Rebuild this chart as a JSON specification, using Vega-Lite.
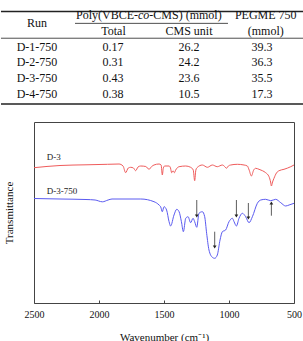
{
  "$schema": "https://vega.github.io/schema/vega-lite/v6.json",
  "padding": 0,
  "background": "white",
  "bounds": "flush",
  "spacing": 10,
  "config": {"font": "Liberation Serif"},
  "datasets": {
    "cells": [
      {"c": 0, "r": 0.5, "t": "Run"},
      {"c": 1.007, "r": 1, "t": "Total"},
      {"c": 2, "r": 1, "t": "CMS unit"},
      {"c": 3.01, "r": 0, "t": "PEGME 750"},
      {"c": 3.01, "r": 1, "t": "(mmol)"},
      {"c": 0, "r": 2, "t": "D-1-750"},
      {"c": 1.0, "r": 2, "t": "0.17"},
      {"c": 2.0, "r": 2, "t": "26.2"},
      {"c": 2.96, "r": 2, "t": "39.3"},
      {"c": 0, "r": 3, "t": "D-2-750"},
      {"c": 1.0, "r": 3, "t": "0.31"},
      {"c": 2.0, "r": 3, "t": "24.2"},
      {"c": 2.96, "r": 3, "t": "36.3"},
      {"c": 0, "r": 4, "t": "D-3-750"},
      {"c": 1.0, "r": 4, "t": "0.43"},
      {"c": 2.0, "r": 4, "t": "23.6"},
      {"c": 2.96, "r": 4, "t": "35.5"},
      {"c": 0, "r": 5, "t": "D-4-750"},
      {"c": 1.0, "r": 5, "t": "0.38"},
      {"c": 2.0, "r": 5, "t": "10.5"},
      {"c": 2.96, "r": 5, "t": "17.3"}
    ],
    "thick": [
      {"c1": -0.474, "c2": 3.513, "r": -0.22},
      {"c1": -0.474, "c2": 3.513, "r": 5.63}
    ],
    "thin": [
      {"c1": -0.474, "c2": 3.513, "r": 1.47},
      {"c1": 0.5, "c2": 2.513, "r": 0.53}
    ],
    "spectra": [
      {"wn": 2500, "T": 135.3, "s": "D-3"}, {"wn": 2300, "T": 137.5, "s": "D-3"}, {"wn": 2100, "T": 138.2, "s": "D-3"},
      {"wn": 1935, "T": 138.7, "s": "D-3"}, {"wn": 1846, "T": 139, "s": "D-3"}, {"wn": 1815, "T": 137, "s": "D-3"},
      {"wn": 1795, "T": 130.3, "s": "D-3"}, {"wn": 1775, "T": 135, "s": "D-3"}, {"wn": 1756, "T": 135.7, "s": "D-3"},
      {"wn": 1735, "T": 135, "s": "D-3"}, {"wn": 1718, "T": 132.3, "s": "D-3"}, {"wn": 1700, "T": 136, "s": "D-3"},
      {"wn": 1679, "T": 137, "s": "D-3"}, {"wn": 1640, "T": 136.5, "s": "D-3"}, {"wn": 1615, "T": 133.7, "s": "D-3"},
      {"wn": 1595, "T": 136.5, "s": "D-3"}, {"wn": 1577, "T": 138, "s": "D-3"}, {"wn": 1538, "T": 139, "s": "D-3"},
      {"wn": 1522, "T": 138, "s": "D-3"}, {"wn": 1513, "T": 128, "s": "D-3"}, {"wn": 1505, "T": 135, "s": "D-3"},
      {"wn": 1495, "T": 137, "s": "D-3"}, {"wn": 1461, "T": 137, "s": "D-3"}, {"wn": 1450, "T": 135, "s": "D-3"},
      {"wn": 1441, "T": 130.3, "s": "D-3"}, {"wn": 1430, "T": 132.3, "s": "D-3"}, {"wn": 1420, "T": 130.3, "s": "D-3"},
      {"wn": 1410, "T": 133, "s": "D-3"}, {"wn": 1384, "T": 136.3, "s": "D-3"}, {"wn": 1333, "T": 137, "s": "D-3"},
      {"wn": 1295, "T": 135.7, "s": "D-3"}, {"wn": 1275, "T": 133, "s": "D-3"}, {"wn": 1264, "T": 122.3, "s": "D-3"},
      {"wn": 1255, "T": 133, "s": "D-3"}, {"wn": 1243, "T": 135.7, "s": "D-3"}, {"wn": 1205, "T": 138, "s": "D-3"},
      {"wn": 1166, "T": 135.7, "s": "D-3"}, {"wn": 1128, "T": 138, "s": "D-3"}, {"wn": 1090, "T": 136.3, "s": "D-3"},
      {"wn": 1051, "T": 138, "s": "D-3"}, {"wn": 1030, "T": 136, "s": "D-3"}, {"wn": 1020, "T": 134.7, "s": "D-3"},
      {"wn": 1005, "T": 137, "s": "D-3"}, {"wn": 987, "T": 138, "s": "D-3"}, {"wn": 936, "T": 138.7, "s": "D-3"},
      {"wn": 884, "T": 138, "s": "D-3"}, {"wn": 859, "T": 137, "s": "D-3"}, {"wn": 845, "T": 133, "s": "D-3"},
      {"wn": 828, "T": 127, "s": "D-3"}, {"wn": 810, "T": 133, "s": "D-3"}, {"wn": 795, "T": 134.7, "s": "D-3"},
      {"wn": 769, "T": 133.7, "s": "D-3"}, {"wn": 743, "T": 132.3, "s": "D-3"}, {"wn": 718, "T": 130.3, "s": "D-3"},
      {"wn": 692, "T": 126.3, "s": "D-3"}, {"wn": 680, "T": 121, "s": "D-3"}, {"wn": 674, "T": 117, "s": "D-3"},
      {"wn": 665, "T": 121, "s": "D-3"}, {"wn": 654, "T": 124.7, "s": "D-3"}, {"wn": 635, "T": 130, "s": "D-3"},
      {"wn": 615, "T": 132.3, "s": "D-3"}, {"wn": 577, "T": 133.7, "s": "D-3"}, {"wn": 525, "T": 136.3, "s": "D-3"},
      {"wn": 500, "T": 138, "s": "D-3"},
      {"wn": 2500, "T": 104.5, "s": "D-3-750"}, {"wn": 2300, "T": 104, "s": "D-3-750"}, {"wn": 2100, "T": 103.5, "s": "D-3-750"},
      {"wn": 2030, "T": 103, "s": "D-3-750"}, {"wn": 1974, "T": 101.2, "s": "D-3-750"}, {"wn": 1930, "T": 103, "s": "D-3-750"},
      {"wn": 1900, "T": 104, "s": "D-3-750"}, {"wn": 1679, "T": 104, "s": "D-3-750"}, {"wn": 1577, "T": 101.3, "s": "D-3-750"},
      {"wn": 1538, "T": 98, "s": "D-3-750"}, {"wn": 1525, "T": 96, "s": "D-3-750"}, {"wn": 1513, "T": 91.3, "s": "D-3-750"},
      {"wn": 1500, "T": 96.3, "s": "D-3-750"}, {"wn": 1480, "T": 93, "s": "D-3-750"}, {"wn": 1461, "T": 81.3, "s": "D-3-750"},
      {"wn": 1449, "T": 77, "s": "D-3-750"}, {"wn": 1423, "T": 88, "s": "D-3-750"}, {"wn": 1402, "T": 93.7, "s": "D-3-750"},
      {"wn": 1384, "T": 91.3, "s": "D-3-750"}, {"wn": 1366, "T": 81.3, "s": "D-3-750"}, {"wn": 1351, "T": 71.3, "s": "D-3-750"},
      {"wn": 1333, "T": 84.7, "s": "D-3-750"}, {"wn": 1315, "T": 86.3, "s": "D-3-750"}, {"wn": 1295, "T": 80.3, "s": "D-3-750"},
      {"wn": 1277, "T": 84.7, "s": "D-3-750"}, {"wn": 1264, "T": 81.3, "s": "D-3-750"}, {"wn": 1248, "T": 75.7, "s": "D-3-750"},
      {"wn": 1231, "T": 89.7, "s": "D-3-750"}, {"wn": 1205, "T": 91.3, "s": "D-3-750"}, {"wn": 1187, "T": 86.3, "s": "D-3-750"},
      {"wn": 1172, "T": 69.7, "s": "D-3-750"}, {"wn": 1154, "T": 53, "s": "D-3-750"}, {"wn": 1128, "T": 45.7, "s": "D-3-750"},
      {"wn": 1110, "T": 44.7, "s": "D-3-750"}, {"wn": 1090, "T": 48, "s": "D-3-750"}, {"wn": 1069, "T": 63, "s": "D-3-750"},
      {"wn": 1051, "T": 71.3, "s": "D-3-750"}, {"wn": 1026, "T": 73, "s": "D-3-750"}, {"wn": 1000, "T": 81.3, "s": "D-3-750"},
      {"wn": 974, "T": 84.7, "s": "D-3-750"}, {"wn": 961, "T": 81.3, "s": "D-3-750"}, {"wn": 943, "T": 77, "s": "D-3-750"},
      {"wn": 923, "T": 84.7, "s": "D-3-750"}, {"wn": 897, "T": 89.7, "s": "D-3-750"}, {"wn": 872, "T": 86.3, "s": "D-3-750"},
      {"wn": 846, "T": 80.3, "s": "D-3-750"}, {"wn": 820, "T": 86.3, "s": "D-3-750"}, {"wn": 782, "T": 99.7, "s": "D-3-750"},
      {"wn": 756, "T": 103, "s": "D-3-750"}, {"wn": 718, "T": 103.7, "s": "D-3-750"}, {"wn": 679, "T": 102.3, "s": "D-3-750"},
      {"wn": 641, "T": 103.7, "s": "D-3-750"}, {"wn": 602, "T": 100.3, "s": "D-3-750"}, {"wn": 564, "T": 97, "s": "D-3-750"},
      {"wn": 538, "T": 98, "s": "D-3-750"}, {"wn": 500, "T": 99.7, "s": "D-3-750"}
    ],
    "arrows": [
      {"wn": 1248, "a": 103, "b": 87, "d": "down"},
      {"wn": 1110, "a": 71.3, "b": 56, "d": "down"},
      {"wn": 943, "a": 103, "b": 87, "d": "down"},
      {"wn": 851, "a": 100, "b": 85, "d": "down"},
      {"wn": 674, "a": 87.3, "b": 100, "d": "up"}
    ],
    "labels": [
      {"wn": 2402, "T": 145.7, "t": "D-3"},
      {"wn": 2402, "T": 112, "t": "D-3-750"}
    ]
  },
  "vconcat": [
    {
      "width": 260,
      "height": 112,
      "view": {"stroke": null},
      "layer": [
        {
          "data": {"name": "thick"},
          "mark": {"type": "rule", "strokeWidth": 1.6, "color": "#222"},
          "encoding": {
            "x": {"field": "c1", "type": "quantitative", "scale": {"domain": [-0.0395, 3.3816], "nice": false, "zero": false}, "axis": null},
            "x2": {"field": "c2"},
            "y": {"field": "r", "type": "quantitative", "scale": {"domain": [-0.949, 6.139], "nice": false, "zero": false, "reverse": true}, "axis": null}
          }
        },
        {
          "data": {"name": "thin"},
          "mark": {"type": "rule", "strokeWidth": 0.8, "color": "#222"},
          "encoding": {
            "x": {"field": "c1", "type": "quantitative"},
            "x2": {"field": "c2"},
            "y": {"field": "r", "type": "quantitative"}
          }
        },
        {
          "data": {"name": "cells"},
          "mark": {"type": "text", "fontSize": 12, "font": "Liberation Serif", "color": "#111", "align": "center", "baseline": "middle"},
          "encoding": {
            "x": {"field": "c", "type": "quantitative"},
            "y": {"field": "r", "type": "quantitative"},
            "text": {"field": "t"}
          }
        },
        {
          "data": {"values": [{"c": 1.329, "r": 0, "t": "Poly(VBCE-"}]},
          "mark": {"type": "text", "fontSize": 12, "font": "Liberation Serif", "color": "#111", "align": "right", "baseline": "middle"},
          "encoding": {
            "x": {"field": "c", "type": "quantitative"},
            "y": {"field": "r", "type": "quantitative"},
            "text": {"field": "t"}
          }
        },
        {
          "data": {"values": [{"c": 1.403, "r": 0, "t": "co"}]},
          "mark": {"type": "text", "fontSize": 12, "font": "Liberation Serif", "fontStyle": "italic", "color": "#111", "align": "center", "baseline": "middle"},
          "encoding": {
            "x": {"field": "c", "type": "quantitative"},
            "y": {"field": "r", "type": "quantitative"},
            "text": {"field": "t"}
          }
        },
        {
          "data": {"values": [{"c": 1.478, "r": 0, "t": "-CMS) (mmol)"}]},
          "mark": {"type": "text", "fontSize": 12, "font": "Liberation Serif", "color": "#111", "align": "left", "baseline": "middle"},
          "encoding": {
            "x": {"field": "c", "type": "quantitative"},
            "y": {"field": "r", "type": "quantitative"},
            "text": {"field": "t"}
          }
        }
      ]
    },
    {
      "width": 260,
      "height": 181,
      "view": {"stroke": "#444", "strokeWidth": 1},
      "layer": [
        {
          "data": {"name": "spectra"},
          "mark": {"type": "line", "strokeWidth": 1, "interpolate": "monotone"},
          "encoding": {
            "x": {
              "field": "wn", "type": "quantitative",
              "scale": {"domain": [500, 2500], "reverse": true, "nice": false, "zero": false},
              "axis": {
                "values": [2500, 2250, 2000, 1750, 1500, 1250, 1000, 750, 500],
                "labelExpr": "datum.value % 500 === 0 ? datum.label : ''",
                "format": "d",
                "grid": false,
                "domain": false,
                "tickSize": -3,
                "tickColor": "#444",
                "labelPadding": 9,
                "labelFont": "Liberation Serif",
                "labelFontSize": 10,
                "labelColor": "#111",
                "labelFlush": false,
                "labelOverlap": false,
                "title": "Wavenumber (cm⁻¹)",
                "titleFont": "Liberation Serif",
                "titleFontSize": 11,
                "titleFontWeight": "normal",
                "titleColor": "#111",
                "titlePadding": 12
              }
            },
            "y": {
              "field": "T", "type": "quantitative",
              "scale": {"domain": [0, 181], "nice": false, "zero": false},
              "axis": {
                "labels": false, "ticks": false, "domain": false, "grid": false,
                "title": "Transmittance",
                "titleFont": "Liberation Serif",
                "titleFontSize": 11,
                "titleFontWeight": "normal",
                "titleColor": "#111",
                "titlePadding": 20
              }
            },
            "color": {"field": "s", "type": "nominal", "scale": {"domain": ["D-3", "D-3-750"], "range": ["#ef5b5b", "#5a5af0"]}, "legend": null}
          }
        },
        {
          "data": {"name": "arrows"},
          "mark": {"type": "rule", "strokeWidth": 0.8, "color": "#333"},
          "encoding": {
            "x": {"field": "wn", "type": "quantitative"},
            "y": {"field": "a", "type": "quantitative"},
            "y2": {"field": "b"}
          }
        },
        {
          "data": {"name": "arrows"},
          "mark": {"type": "point", "filled": true, "size": 14, "color": "#222", "opacity": 1},
          "encoding": {
            "x": {"field": "wn", "type": "quantitative"},
            "y": {"field": "b", "type": "quantitative"},
            "shape": {"field": "d", "type": "nominal", "scale": {"domain": ["down", "up"], "range": ["triangle-down", "triangle-up"]}, "legend": null}
          }
        },
        {
          "data": {"name": "labels"},
          "mark": {"type": "text", "fontSize": 9, "font": "Liberation Serif", "color": "#222", "align": "left", "baseline": "middle"},
          "encoding": {
            "x": {"field": "wn", "type": "quantitative"},
            "y": {"field": "T", "type": "quantitative"},
            "text": {"field": "t"}
          }
        }
      ],
      "resolve": {"scale": {"color": "independent", "shape": "independent"}}
    }
  ]
}
